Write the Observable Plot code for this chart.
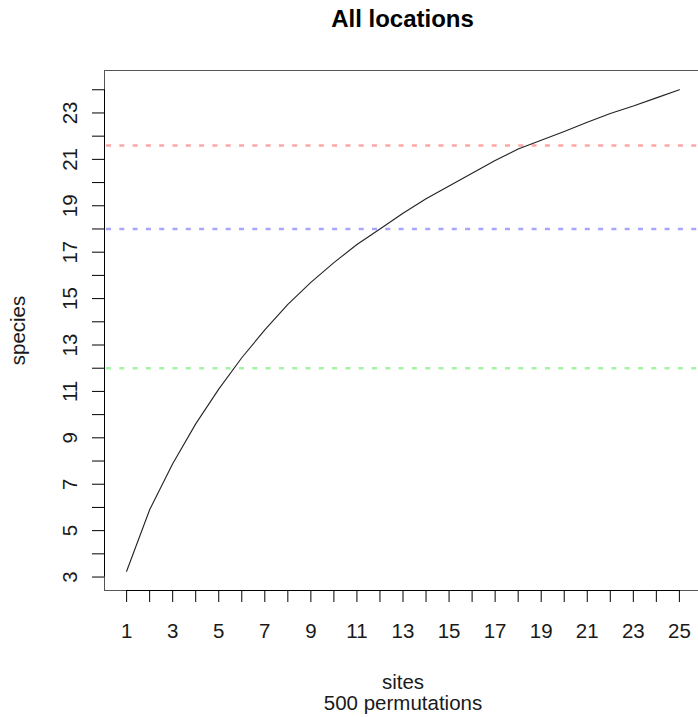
<!DOCTYPE html>
<html>
<head>
<meta charset="utf-8">
<script src="https://cdn.jsdelivr.net/npm/d3@7"></script>
<script src="https://cdn.jsdelivr.net/npm/@observablehq/plot@0.6"></script>
<style>
  html, body { margin: 0; padding: 0; background: #fff; }
  #wrap { width: 698px; height: 717px; overflow: hidden; position: relative; }
  #title { margin-left: 104px; width: 597px; height: 50px; box-sizing: border-box; padding-top: 4px;
           text-align: center; font: bold 24px "Liberation Sans", Arial, sans-serif; line-height: 30px; color: #000; }
  svg { display: block; overflow: hidden; }
</style>
</head>
<body>
<div id="wrap">
  <div id="title">All locations</div>
  <div id="chart"></div>
</div>
<script>
// Data
const sites = [1,2,3,4,5,6,7,8,9,10,11,12,13,14,15,16,17,18,19,20,21,22,23,24,25];
const species = [3.25,5.9,7.88,9.6,11.1,12.45,13.65,14.75,15.7,16.55,17.33,18.0,18.68,19.3,19.85,20.4,20.95,21.45,21.82,22.2,22.6,22.98,23.3,23.65,24.0];
const refLevels = [12, 18, 21.6];
const refColors = ["#00dd00", "#0000ff", "#ff0000"];
const xTicks = d3.range(1, 26);
const xLabels = d3.range(1, 26, 2);
const yTicks = d3.range(3, 25);
const yLabels = d3.range(3, 25, 2);
const xTitle = "sites";
const xSubtitle = "500 permutations";
const yTitle = "species";

const data = sites.map((s, i) => ({site: s, species: species[i]}));
const refs = refLevels.map((v, i) => ({v, c: refColors[i]}));

// R-style 4% domain padding
const pad = ([a, b]) => [a - 0.04 * (b - a), b + 0.04 * (b - a)];
const xDom = pad(d3.extent(sites));
const yDom = pad(d3.extent(species));

const font = '"Liberation Sans", Arial, sans-serif';
const fs = 20.5;

const chart = Plot.plot({
  width: 698,
  height: 667,
  marginLeft: 104,
  marginRight: -3,
  marginTop: 20,
  marginBottom: 127,
  style: {fontFamily: font, fontSize: fs + "px", color: "#000", background: "#fff", overflow: "hidden"},
  x: {domain: xDom, axis: null, label: null},
  y: {domain: yDom, axis: null, label: null},
  marks: [
    Plot.frame({stroke: "#555", strokeWidth: 1}),
    Plot.ruleY(refs, {y: "v", stroke: "c", strokeOpacity: 0.35, strokeWidth: 2.6, strokeDasharray: "5,8.3", x1: xDom[0], x2: xDom[1], dx: 2}),
    Plot.line(data, {x: "site", y: "species", stroke: "#222", strokeWidth: 1.1}),
    // x axis: line over tick range, ticks, labels
    Plot.ruleY([yDom[0]], {x1: sites[0], x2: sites[sites.length - 1], stroke: "#000"}),
    Plot.axisX(xTicks, {tickSize: 12, tickFormat: () => "", label: null, stroke: "#000", strokeOpacity: 1}),
    Plot.text(xLabels, {x: d => d, frameAnchor: "bottom", dy: 41, lineAnchor: "middle", fill: "#1a1a1a", fontSize: fs}),
    // y axis
    Plot.ruleX([xDom[0]], {y1: yTicks[0], y2: yTicks[yTicks.length - 1], stroke: "#000"}),
    Plot.axisY(yTicks, {tickSize: 12, tickFormat: () => "", label: null, stroke: "#000", strokeOpacity: 1}),
    Plot.text(yLabels, {y: d => d, frameAnchor: "left", dx: -34, rotate: -90, textAnchor: "middle", lineAnchor: "middle", fill: "#1a1a1a", fontSize: fs}),
    // axis titles
    Plot.text([yTitle], {frameAnchor: "left", dx: -86, rotate: -90, textAnchor: "middle", lineAnchor: "middle", fill: "#1a1a1a", fontSize: fs}),
    Plot.text([xTitle], {frameAnchor: "bottom", dy: 92, lineAnchor: "middle", fill: "#1a1a1a", fontSize: fs}),
    Plot.text([xSubtitle], {frameAnchor: "bottom", dy: 113, lineAnchor: "middle", fill: "#1a1a1a", fontSize: fs})
  ]
});
document.getElementById("chart").appendChild(chart);
</script>
</body>
</html>
